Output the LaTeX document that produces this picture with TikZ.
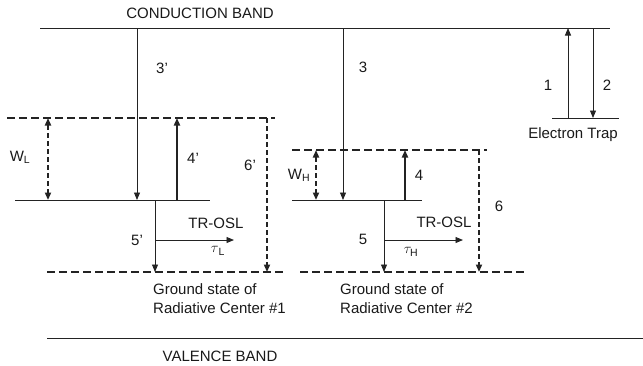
\documentclass[tikz,border=0pt]{standalone}
\usepackage{fontspec}
\setmainfont{Liberation Sans}
\usepackage{tikz}
\usetikzlibrary{arrows.meta,positioning}
\definecolor{lvgray}{RGB}{35,35,35}

\begin{document}
\begin{tikzpicture}[x=1pt,y=-1pt,>={Triangle[length=7.5pt,width=6pt]},
  every node/.style={font=\fontsize{15}{19}\selectfont,inner sep=0pt,text=black!90},
  band/.style={line width=0.9pt,lvgray},
  excited/.style={line width=1.4pt,lvgray,dash pattern=on 8pt off 4pt},
  trans/.style={->,line width=0.9pt,lvgray},
  pump/.style={->,line width=2.3pt,lvgray},
  relax/.style={->,line width=2.3pt,lvgray,dash pattern=on 5pt off 3pt},
  width/.style={<->,line width=2.3pt,lvgray,dash pattern=on 5pt off 3pt}]
  \useasboundingbox (0,0) rectangle (643,365);
  % bands
  \coordinate (cbL) at (40,28);  \coordinate (cbR) at (610,28);
  \coordinate (vbL) at (47,338); \coordinate (vbR) at (643,338);
  \draw[band] (cbL) -- (cbR);
  \draw[band] (vbL) -- (vbR);
  \node (cbtext) at (200,13) {CONDUCTION BAND};
  \node (vbtext) at (220,356) {VALENCE BAND};
  % electron trap
  \coordinate (trL) at (552,118); \coordinate (trR) at (619,118);
  \draw[band] (trL) -- (trR);
  \draw[trans] (568,118) -- (568,28);
  \draw[trans] (593,28) -- (593,118);
  \node (l1) at (548,85) {1};
  \node (l2) at (607,85) {2};
  \node (trap) at (573,135) {Electron Trap};
  % radiative center #1
  \coordinate (ex1L) at (7,118);   \coordinate (ex1R) at (275,118);
  \coordinate (lv1L) at (15,200);  \coordinate (lv1R) at (210,200);
  \coordinate (gs1L) at (47,272);  \coordinate (gs1R) at (283,272);
  \draw[excited] (ex1L) -- (ex1R);
  \draw[band] (lv1L) -- (lv1R);
  \draw[excited] (gs1L) -- (gs1R);
  \draw[trans] (137,28) -- (137,200);
  \draw[width] (48,118) -- (48,200);
  \draw[pump] (177,200) -- (177,118);
  \draw[relax] (267,118) -- (267,272);
  \draw[trans] (155,200) -- (155,272);
  \draw[trans] (155,240) -- (234,240);
  \node (l3p) at (162,68) {3'};
  \node (wl) at (20,157) {W\textsubscript{L}};
  \node (l4p) at (193,158) {4'};
  \node (l6p) at (250,165) {6'};
  \node (l5p) at (137,240) {5'};
  \node (osl1) at (216,223) {TR-OSL};
  \node (tau1) at (218,251) {$\tau$\textsubscript{L}};
  \node[anchor=west,align=left] (gs1) at (153,298.5) {Ground state of\\Radiative Center \#1};
  % radiative center #2
  \coordinate (ex2L) at (292,150); \coordinate (ex2R) at (487,150);
  \coordinate (lv2L) at (292,200); \coordinate (lv2R) at (422,200);
  \coordinate (gs2L) at (300,272); \coordinate (gs2R) at (527,272);
  \draw[excited] (ex2L) -- (ex2R);
  \draw[band] (lv2L) -- (lv2R);
  \draw[excited] (gs2L) -- (gs2R);
  \draw[trans] (343,28) -- (343,200);
  \draw[width] (316,150) -- (316,200);
  \draw[pump] (405,200) -- (405,150);
  \draw[relax] (479,150) -- (479,272);
  \draw[trans] (384,200) -- (384,272);
  \draw[trans] (384,240) -- (463,240);
  \node (l3) at (363,67) {3};
  \node (wh) at (299,175) {W\textsubscript{H}};
  \node (l4) at (419,175) {4};
  \node (l6) at (499,206) {6};
  \node (l5) at (363,239) {5};
  \node (osl2) at (444,222) {TR-OSL};
  \node (tau2) at (411,252) {$\tau_{\mathrm{H}}$};
  \node[anchor=west,align=left] (gs2) at (340,298.5) {Ground state of\\Radiative Center \#2};
\end{tikzpicture}
\end{document}
